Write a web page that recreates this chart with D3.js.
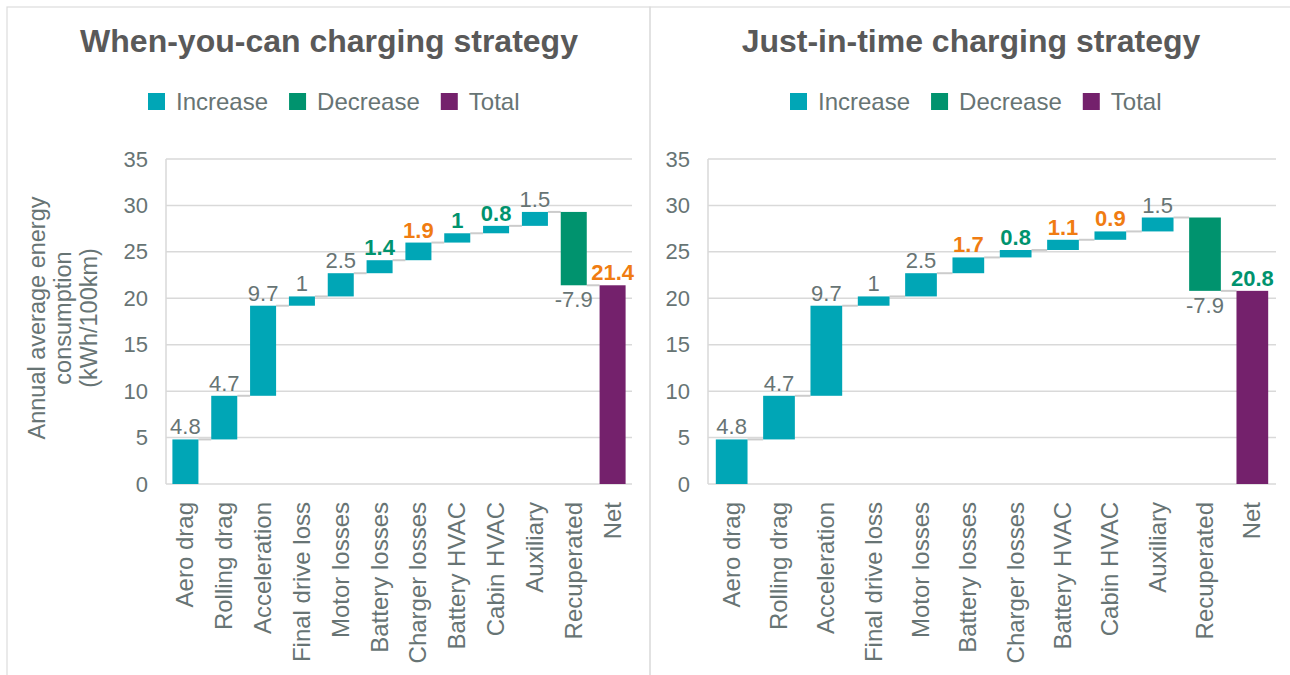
<!doctype html>
<html lang="en">
<head>
    <meta charset="UTF-8">
    <title>Charging strategy waterfall</title>
    <script src="https://d3js.org/d3.v7.min.js"></script>
    <style>
      body { margin: 0; background: #fff; }
      text { font-family: "Liberation Sans", Arial, sans-serif; }
    </style>
</head>
<body>
    <svg width="1290" height="675"></svg>

    <script>

      // Data
      const categories = ["Aero drag", "Rolling drag", "Acceleration", "Final drive loss", "Motor losses",
        "Battery losses", "Charger losses", "Battery HVAC", "Cabin HVAC", "Auxiliary", "Recuperated", "Net"];
      const whenValues = [4.8, 4.7, 9.7, 1, 2.5, 1.4, 1.9, 1, 0.8, 1.5, -7.9, 21.4];
      const justValues = [4.8, 4.7, 9.7, 1, 2.5, 1.7, 0.8, 1.1, 0.9, 1.5, -7.9, 20.8];
      // label highlight: "up" = orange, "down" = green, "" = plain grey
      const whenHighlight = ["", "", "", "", "", "down", "up", "down", "down", "", "", "up"];
      const justHighlight = ["", "", "", "", "", "up", "down", "up", "up", "", "", "down"];
      const yTicks = [0, 5, 10, 15, 20, 25, 30, 35];
      const legendItems = ["Increase", "Decrease", "Total"];

      const colors = { Increase: "#00a6b6", Decrease: "#00936e", Total: "#74216c" };
      const labelColors = { up: "#f07c12", down: "#00936e", "": "#677474" };
      const textGrey = "#677474";

      const svg = d3.select("svg");

      // panel frames
      svg.append("rect").attr("x", 7).attr("y", 7).attr("width", 643).attr("height", 700)
          .attr("fill", "none").attr("stroke", "#dcdcdc").attr("stroke-width", 1.2);
      svg.append("rect").attr("x", 650).attr("y", 7).attr("width", 660).attr("height", 700)
          .attr("fill", "none").attr("stroke", "#dcdcdc").attr("stroke-width", 1.2);

      function steps(values) {
        let run = 0;
        return values.map((v, i) => {
          if (i === values.length - 1) return { cat: categories[i], v, y0: 0, y1: v, type: "Total" };
          const s = { cat: categories[i], v, y0: run, y1: run + v, type: v < 0 ? "Decrease" : "Increase" };
          run += v;
          return s;
        });
      }

      function drawPanel(opts) {
        const g = svg.append("g");
        const x = d3.scaleBand().domain(categories).range([opts.left, opts.right]).paddingInner(0.33).paddingOuter(0.165);
        const y = d3.scaleLinear().domain([0, 35]).range([484, 159]);
        const data = steps(opts.values);

        // title
        g.append("text")
            .attr("x", opts.titleX).attr("y", 52)
            .attr("text-anchor", "middle")
            .attr("font-size", 32).attr("font-weight", "bold").attr("fill", "#595959")
            .text(opts.title);

        // legend
        const leg = g.append("g").attr("transform", `translate(${opts.legendX},102)`);
        let lx = 0;
        legendItems.forEach(name => {
          leg.append("rect").attr("x", lx).attr("y", -9).attr("width", 17).attr("height", 17).attr("fill", colors[name]);
          const t = leg.append("text").attr("x", lx + 28).attr("y", 8)
              .attr("font-size", 24).attr("fill", textGrey).text(name);
          lx += 28 + t.node().getComputedTextLength() + 21;
        });

        // gridlines
        g.append("g").selectAll("line").data(yTicks).join("line")
            .attr("x1", opts.left).attr("x2", opts.right)
            .attr("y1", d => y(d)).attr("y2", d => y(d))
            .attr("stroke", "#d9d9d9").attr("stroke-width", 1.5);
        g.append("line").attr("x1", opts.left).attr("x2", opts.left)
            .attr("y1", y(35)).attr("y2", y(0))
            .attr("stroke", "#d9d9d9").attr("stroke-width", 1.5);

        // y axis
        const yAxis = g.append("g").attr("transform", `translate(${opts.left},0)`)
            .call(d3.axisLeft(y).tickValues(yTicks).tickSize(0).tickPadding(18));
        yAxis.select(".domain").remove();
        yAxis.selectAll("text").attr("font-size", 22).attr("fill", textGrey)
            .attr("font-family", "Liberation Sans, Arial, sans-serif");

        // x axis labels
        g.append("g").selectAll("text").data(categories).join("text")
            .attr("transform", d => `translate(${x(d) + x.bandwidth() / 2 + 8},502) rotate(-90)`)
            .attr("text-anchor", "end")
            .attr("font-size", 24).attr("fill", textGrey)
            .text(d => d);

        // connectors
        g.append("g").selectAll("line").data(data.slice(0, -1)).join("line")
            .attr("x1", d => x(d.cat) + x.bandwidth())
            .attr("x2", (d, i) => x(categories[i + 1]))
            .attr("y1", d => y(d.y1)).attr("y2", d => y(d.y1))
            .attr("stroke", "#cccccc").attr("stroke-width", 2);

        // bars
        g.append("g").selectAll("rect").data(data).join("rect")
            .attr("x", d => x(d.cat))
            .attr("width", x.bandwidth())
            .attr("y", d => y(Math.max(d.y0, d.y1)))
            .attr("height", d => Math.abs(y(d.y0) - y(d.y1)))
            .attr("fill", d => colors[d.type]);

        // value labels
        g.append("g").selectAll("text").data(data).join("text")
            .attr("x", d => x(d.cat) + x.bandwidth() / 2)
            .attr("y", d => d.v < 0 ? y(Math.min(d.y0, d.y1)) + 22 : y(Math.max(d.y0, d.y1)) - 5)
            .attr("text-anchor", "middle")
            .attr("font-size", 22)
            .attr("font-weight", (d, i) => opts.highlight[i] ? "bold" : "normal")
            .attr("fill", (d, i) => labelColors[opts.highlight[i]])
            .text(d => d.v);

        // y title
        if (opts.yTitle) {
          const yt = g.append("text")
              .attr("transform", "translate(63,318) rotate(-90)")
              .attr("text-anchor", "middle").attr("font-size", 23.5).attr("fill", textGrey);
          opts.yTitle.forEach((line, i) => {
            yt.append("tspan").attr("x", 0).attr("dy", i === 0 ? -18 : 26).text(line);
          });
        }
      }

      drawPanel({
        title: "When-you-can charging strategy", titleX: 329, legendX: 148,
        left: 166, right: 632, values: whenValues, highlight: whenHighlight,
        yTitle: ["Annual average energy", "consumption", "(kWh/100km)"]
      });
      drawPanel({
        title: "Just-in-time charging strategy", titleX: 971, legendX: 790,
        left: 708, right: 1276, values: justValues, highlight: justHighlight
      });

    </script>
</body>
</html>
